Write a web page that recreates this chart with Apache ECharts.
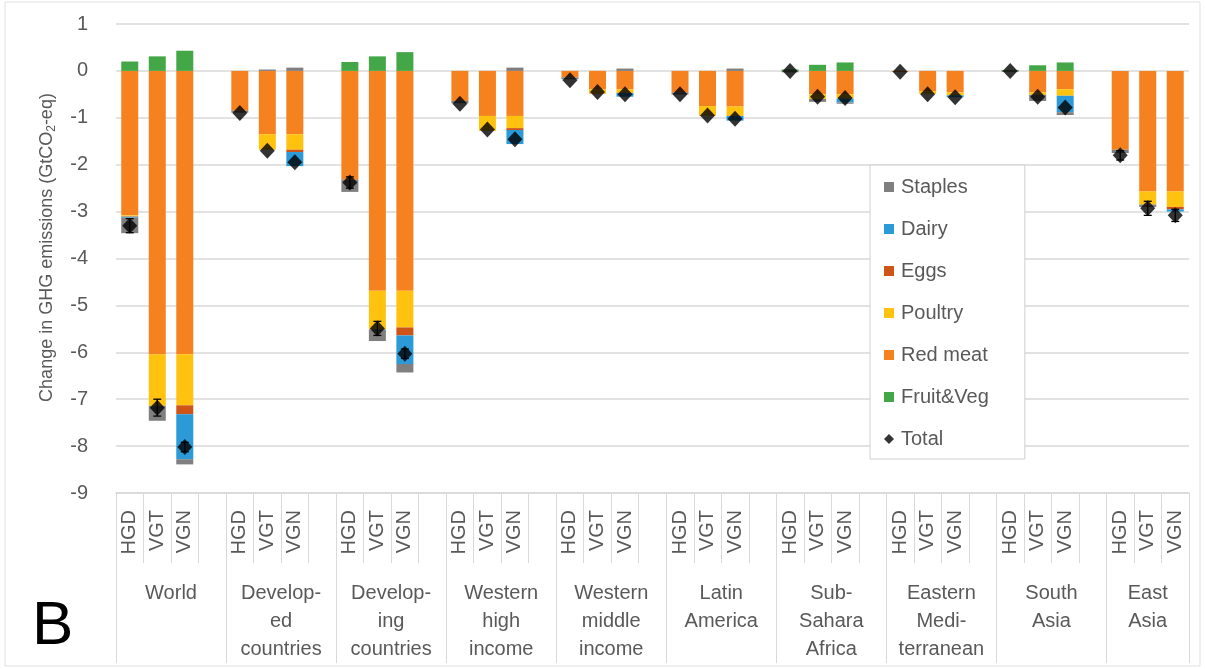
<!DOCTYPE html>
<html>
<head>
<meta charset="utf-8">
<script src="https://cdn.jsdelivr.net/npm/echarts@6/dist/echarts.min.js"></script>
<style>
  html, body { margin: 0; padding: 0; background: #fff; }
  #chart { width: 1205px; height: 669px; }
</style>
</head>
<body>
<div id="chart"></div>
<script>
// Regions and diet scenarios
const regions = ['World', 'Develop-\ned\ncountries', 'Develop-\ning\ncountries', 'Western\nhigh\nincome',
  'Western\nmiddle\nincome', 'Latin\nAmerica', 'Sub-\nSahara\nAfrica', 'Eastern\nMedi-\nterranean',
  'South\nAsia', 'East\nAsia'];
const diets = ['HGD', 'VGT', 'VGN'];

// Change in GHG emissions by food group (GtCO2-eq), region by region: HGD, VGT, VGN
const redMeat = [
  -3.08, -6.04, -6.04,   -0.85, -1.35, -1.35,   -2.32, -4.69, -4.69,   -0.64, -0.96, -0.96,
  -0.14, -0.39, -0.39,   -0.46, -0.75, -0.76,    0.00, -0.50, -0.50,   -0.02, -0.43, -0.46,
   0.00, -0.46, -0.39,   -1.68, -2.57, -2.57];
const poultry = [
  -0.02, -1.10, -1.09,    0.00, -0.33, -0.33,    0.00, -0.82, -0.78,    0.00, -0.32, -0.26,
   0.00, -0.10, -0.08,    0.00, -0.21, -0.20,    0.00, -0.10, -0.09,    0.00, -0.06, -0.06,
   0.00, -0.05, -0.14,    0.00, -0.28, -0.33];
const eggs = [
  -0.01,  0.00, -0.19,    0.00,  0.00, -0.05,    0.00,  0.00, -0.17,    0.00,  0.00, -0.04,
   0.00,  0.00,  0.00,    0.00,  0.00,  0.00,    0.00,  0.00,  0.00,    0.00,  0.00,  0.00,
   0.00,  0.00,  0.00,    0.00,  0.00, -0.05];
const dairy = [
  -0.02,  0.00, -0.96,    0.00,  0.00, -0.30,    0.00,  0.00, -0.61,    0.00,  0.00, -0.30,
   0.00,  0.00, -0.08,    0.00,  0.00, -0.10,    0.00,  0.00, -0.08,    0.00,  0.00, -0.04,
   0.00,  0.00, -0.35,    0.00,  0.00, -0.05];
const staples = [
  -0.33, -0.32, -0.11,   -0.04,  0.03,  0.07,   -0.26, -0.25, -0.18,   -0.05,  0.00,  0.07,
  -0.04,  0.00,  0.05,   -0.04,  0.00,  0.05,   -0.03, -0.06, -0.03,    0.00,  0.00,  0.00,
  -0.02, -0.13, -0.06,   -0.07, -0.05,  0.00];
const fruitVeg = [
   0.20,  0.31,  0.43,    0.00,  0.00,  0.00,    0.19,  0.31,  0.40,    0.00,  0.00,  0.00,
   0.00,  0.00,  0.00,    0.00,  0.00,  0.00,    0.03,  0.13,  0.18,    0.00,  0.00,  0.00,
   0.02,  0.12,  0.18,    0.00,  0.00,  0.00];
const total = [
  -3.30, -7.18, -8.02,   -0.90, -1.70, -1.95,   -2.38, -5.49, -6.03,   -0.70, -1.25, -1.46,
  -0.20, -0.45, -0.50,   -0.50, -0.95, -1.02,    0.00, -0.55, -0.58,   -0.02, -0.50, -0.56,
   0.00, -0.55, -0.78,   -1.80, -2.93, -3.08];
const totalErr = [
   0.15,  0.18,  0.10,    0.00,  0.00,  0.00,    0.12,  0.15,  0.10,    0.00,  0.00,  0.00,
   0.00,  0.00,  0.00,    0.00,  0.00,  0.00,    0.00,  0.00,  0.00,    0.00,  0.00,  0.00,
   0.00,  0.00,  0.00,    0.10,  0.15,  0.13];

// y-axis range
const yMin = -9, yMax = 1, yStep = 1;

// Each region takes three slots plus one empty spacer slot (none after the last region)
const slots = [];
const slotOf = [];
regions.forEach((r, ri) => {
  diets.forEach(d => { slotOf.push(slots.length); slots.push(d); });
  if (ri < regions.length - 1) slots.push('');
});
function spread(arr) {
  const out = slots.map(() => '-');
  arr.forEach((v, i) => { out[slotOf[i]] = v; });
  return out;
}
// Position of each region name: centre of its block of slots
const regionCentre = {};
regions.forEach((r, ri) => {
  const start = ri * 4;
  const width = ri < regions.length - 1 ? 4 : 3;
  regionCentre[(start + width / 2).toFixed(1)] = r;
});

const textColor = '#595959';
const lineColor = '#d9d9d9';
const font = 'Liberation Sans, Arial, sans-serif';

const colors = {
  'Staples': '#7f7f7f',
  'Dairy': '#2b9ad6',
  'Eggs': '#cf5417',
  'Poultry': '#ffc20e',
  'Red meat': '#f5811f',
  'Fruit&Veg': '#43a748'
};

function barSeries(name, arr) {
  return {
    name: name,
    type: 'bar',
    stack: 'ghg',
    barWidth: 17,
    itemStyle: { color: colors[name] },
    data: spread(arr)
  };
}

const errData = [];
totalErr.forEach((e, i) => {
  if (e > 0) errData.push([slotOf[i], total[i] - e, total[i] + e]);
});

const chart = echarts.init(document.getElementById('chart'));
chart.setOption({
  animation: false,
  backgroundColor: '#fff',
  textStyle: { fontFamily: font },
  grid: { left: 116, right: 16, top: 24, bottom: 176 },
  legend: {
    orient: 'vertical',
    left: 870,
    top: 165,
    padding: [11, 36, 9, 14],
    itemGap: 20,
    itemWidth: 10,
    itemHeight: 10,
    backgroundColor: '#fff',
    borderColor: '#d0d0d0',
    borderWidth: 1,
    textStyle: { color: textColor, fontSize: 20, lineHeight: 22, fontFamily: font, padding: [0, 0, 0, 2] },
    data: [
      { name: 'Staples', icon: 'rect' },
      { name: 'Dairy', icon: 'rect' },
      { name: 'Eggs', icon: 'rect' },
      { name: 'Poultry', icon: 'rect' },
      { name: 'Red meat', icon: 'rect' },
      { name: 'Fruit&Veg', icon: 'rect' },
      { name: 'Total', icon: 'diamond' }
    ]
  },
  xAxis: [
    {
      type: 'category',
      data: slots,
      position: 'bottom',
      axisLine: { onZero: false, lineStyle: { color: lineColor, width: 1.5 } },
      axisTick: { show: true, interval: 0, length: 70, lineStyle: { color: lineColor } },
      axisLabel: { interval: 0, rotate: 90, margin: 17, color: textColor, fontSize: 20, fontFamily: font },
      splitLine: { show: false }
    },
    {
      type: 'category',
      data: slots,
      position: 'bottom',
      axisLine: { show: false, onZero: false },
      axisTick: { show: true, interval: (i) => i % 4 === 0, length: 170, lineStyle: { color: lineColor } },
      axisLabel: { show: false },
      splitLine: { show: false }
    },
    {
      type: 'value',
      min: 0,
      max: slots.length,
      interval: 0.5,
      position: 'bottom',
      axisLine: { show: false, onZero: false },
      axisTick: { show: false },
      splitLine: { show: false },
      axisLabel: {
        margin: 86,
        color: textColor,
        fontSize: 20,
        lineHeight: 28,
        fontFamily: font,
        align: 'center',
        formatter: (v) => regionCentre[v.toFixed(1)] || ''
      }
    }
  ],
  yAxis: {
    type: 'value',
    min: yMin,
    max: yMax,
    interval: yStep,
    axisLine: { show: false, onZero: false },
    axisTick: { show: false },
    splitLine: { lineStyle: { color: lineColor, width: 1.5 } },
    axisLabel: { margin: 28, color: textColor, fontSize: 20, fontFamily: font },
    name: '{a|Change in GHG emissions (GtCO}{s|2}{a|-eq)}',
    nameLocation: 'middle',
    nameRotate: 90,
    nameGap: 58,
    nameTextStyle: {
      padding: [0, 0, 0, 22],
      rich: {
        a: { fontSize: 18, color: textColor, fontFamily: font },
        s: { fontSize: 12, color: textColor, fontFamily: font, padding: [10, 0, 0, 0] }
      }
    }
  },
  series: [
    barSeries('Red meat', redMeat),
    barSeries('Poultry', poultry),
    barSeries('Eggs', eggs),
    barSeries('Dairy', dairy),
    barSeries('Staples', staples),
    barSeries('Fruit&Veg', fruitVeg),
    {
      name: 'Total error',
      type: 'custom',
      z: 5,
      data: errData,
      renderItem: (params, api) => {
        const x = api.value(0);
        const lo = api.coord([x, api.value(1)]);
        const hi = api.coord([x, api.value(2)]);
        const cap = 4;
        const style = { stroke: '#000', lineWidth: 1.3 };
        return {
          type: 'group',
          children: [
            { type: 'line', shape: { x1: lo[0], y1: lo[1], x2: hi[0], y2: hi[1] }, style },
            { type: 'line', shape: { x1: lo[0] - cap, y1: lo[1], x2: lo[0] + cap, y2: lo[1] }, style },
            { type: 'line', shape: { x1: hi[0] - cap, y1: hi[1], x2: hi[0] + cap, y2: hi[1] }, style }
          ]
        };
      }
    },
    {
      name: 'Total',
      type: 'scatter',
      symbol: 'diamond',
      symbolSize: [15, 16],
      z: 6,
      itemStyle: { color: '#000' },
      data: spread(total)
    }
  ],
  graphic: [
    {
      type: 'rect',
      shape: { x: 5, y: 2, width: 1195, height: 664 },
      style: { fill: 'none', stroke: '#e0e0e0', lineWidth: 1 },
      silent: true
    },
    {
      type: 'text',
      left: 32,
      top: 596,
      style: { text: 'B', fontSize: 62, fill: '#000', fontFamily: font }
    }
  ]
});
</script>
</body>
</html>
